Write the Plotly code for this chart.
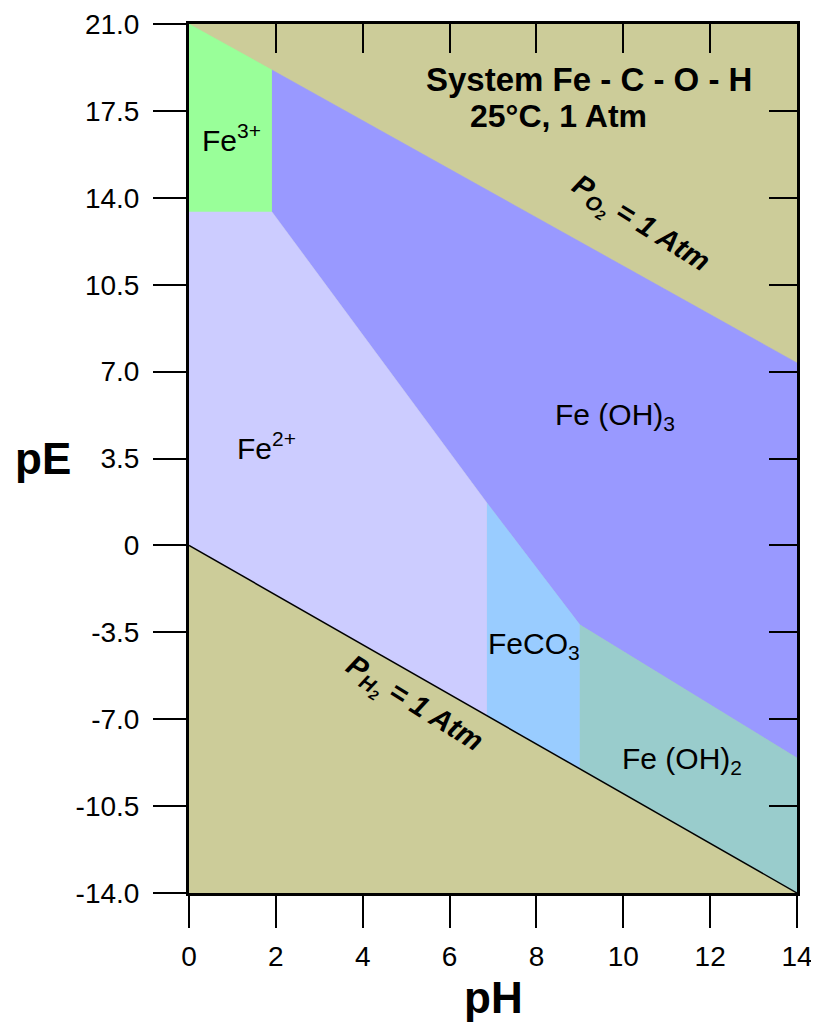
import plotly.graph_objects as go

# ---- data (pH, pE) ----
fe3_ph = [0.0, 1.91, 1.91, 0.0]
fe3_pe = [21.0, 19.15, 13.43, 13.43]

feoh3_ph = [1.91, 14.0, 14.0, 9.0, 6.86, 1.91]
feoh3_pe = [19.15, 7.35, -8.56, -3.2, 1.71, 13.43]

fe2_ph = [0.0, 1.91, 6.86, 6.86, 0.0]
fe2_pe = [13.43, 13.43, 1.71, -6.86, 0.0]

feco3_ph = [6.86, 9.0, 9.0, 6.86]
feco3_pe = [1.71, -3.2, -9.0, -6.86]

feoh2_ph = [9.0, 14.0, 14.0, 9.0]
feoh2_pe = [-3.2, -8.56, -14.0, -9.0]

h2_ph = [0.0, 14.0]
h2_pe = [0.0, -14.0]

x_ticks = [0, 2, 4, 6, 8, 10, 12, 14]
y_ticks = [21.0, 17.5, 14.0, 10.5, 7.0, 3.5, 0, -3.5, -7.0, -10.5, -14.0]
y_tick_text = ["21.0", "17.5", "14.0", "10.5", "7.0", "3.5", "0", "-3.5", "-7.0", "-10.5", "-14.0"]

FONT = "Liberation Sans, Arial, Helvetica, sans-serif"

fig = go.Figure()

regions = [
    (fe3_ph, fe3_pe, "#99FF99"),
    (feoh3_ph, feoh3_pe, "#9999FF"),
    (fe2_ph, fe2_pe, "#CCCCFF"),
    (feco3_ph, feco3_pe, "#99CCFF"),
    (feoh2_ph, feoh2_pe, "#99CCCC"),
]
for xs, ys, col in regions:
    fig.add_trace(go.Scatter(x=xs, y=ys, fill="toself", fillcolor=col,
                             mode="lines", line=dict(width=0.5, color=col),
                             hoverinfo="skip", showlegend=False))

fig.add_trace(go.Scatter(x=h2_ph, y=h2_pe, mode="lines",
                         line=dict(color="black", width=1.5),
                         hoverinfo="skip", showlegend=False))

# invisible trace for secondary (inside-tick) axes
fig.add_trace(go.Scatter(x=[0], y=[0], xaxis="x2", yaxis="y2", mode="markers",
                         marker=dict(opacity=0), hoverinfo="skip", showlegend=False))

ann = []
def label(x, y, text, size=30, bold=False, angle=0, italic=False):
    t = text
    if bold:
        t = "<b>" + t + "</b>"
    if italic:
        t = "<i>" + t + "</i>"
    ann.append(dict(x=x, y=y, xref="x", yref="y", text=t, showarrow=False,
                    textangle=angle, font=dict(family=FONT, size=size, color="black")))

label(0.98, 16.4, "Fe<sup>3+</sup>")
label(1.78, 4.0, "Fe<sup>2+</sup>")
label(9.8, 5.2, "Fe (OH)<sub>3</sub>")
label(7.95, -4.05, "FeCO<sub>3</sub>")
label(11.35, -8.65, "Fe (OH)<sub>2</sub>")
label(9.2, 18.78, "System Fe - C - O - H", size=33, bold=True)
label(8.5, 17.3, "25°C, 1 Atm", size=32, bold=True)
label(10.38, 12.9, "P<sub>O<sub>2</sub></sub> = 1 Atm", size=29, bold=True, angle=32, italic=True)
label(5.16, -6.45, "P<sub>H<sub>2</sub></sub> = 1 Atm", size=29, bold=True, angle=32, italic=True)

ann.append(dict(x=0, y=0.5, xref="paper", yref="paper", xanchor="center", yanchor="middle",
                xshift=-146, yshift=0, text="<b>pE</b>", showarrow=False,
                font=dict(family=FONT, size=44, color="black")))
ann.append(dict(x=0.5, y=0, xref="paper", yref="paper", xanchor="center", yanchor="middle",
                yshift=-104, text="<b>pH</b>", showarrow=False,
                font=dict(family=FONT, size=44, color="black")))

common = dict(showgrid=False, zeroline=False, automargin=False)

# the page body adds an 8 px offset, so the figure is 8 px smaller
fig.update_layout(
    width=811, height=1015,
    margin=dict(l=181, r=22, t=16, b=130),
    paper_bgcolor="white",
    plot_bgcolor="#CCCC99",
    annotations=ann,
    xaxis=dict(range=[0, 14], tickvals=x_ticks, ticks="outside", ticklen=32,
               tickwidth=1.5, tickcolor="black",
               showline=True, linecolor="black", linewidth=3, mirror=True,
               ticklabelstandoff=4,
               tickfont=dict(family=FONT, size=28, color="black"), **common),
    yaxis=dict(range=[-14, 21], tickvals=y_ticks, ticktext=y_tick_text,
               ticks="outside", ticklen=33, tickwidth=1.5, tickcolor="black",
               showline=True, linecolor="black",
               linewidth=3, mirror=True, ticklabelstandoff=8,
               tickfont=dict(family=FONT, size=28, color="black"), **common),
    xaxis2=dict(range=[0, 14], overlaying="x", side="top", anchor="y",
                tickvals=[2, 4, 6, 8, 10, 12], ticks="inside", ticklen=29,
                tickwidth=1.5, tickcolor="black", showticklabels=False,
                showline=False, **common),
    yaxis2=dict(range=[-14, 21], overlaying="y", side="right", anchor="x",
                tickvals=[17.5, 14.0, 10.5, 7.0, 3.5, 0, -3.5, -7.0, -10.5],
                ticks="inside", ticklen=28, tickwidth=1.5, tickcolor="black",
                showticklabels=False, showline=False, **common),
)

fig.write_html("out.html")
